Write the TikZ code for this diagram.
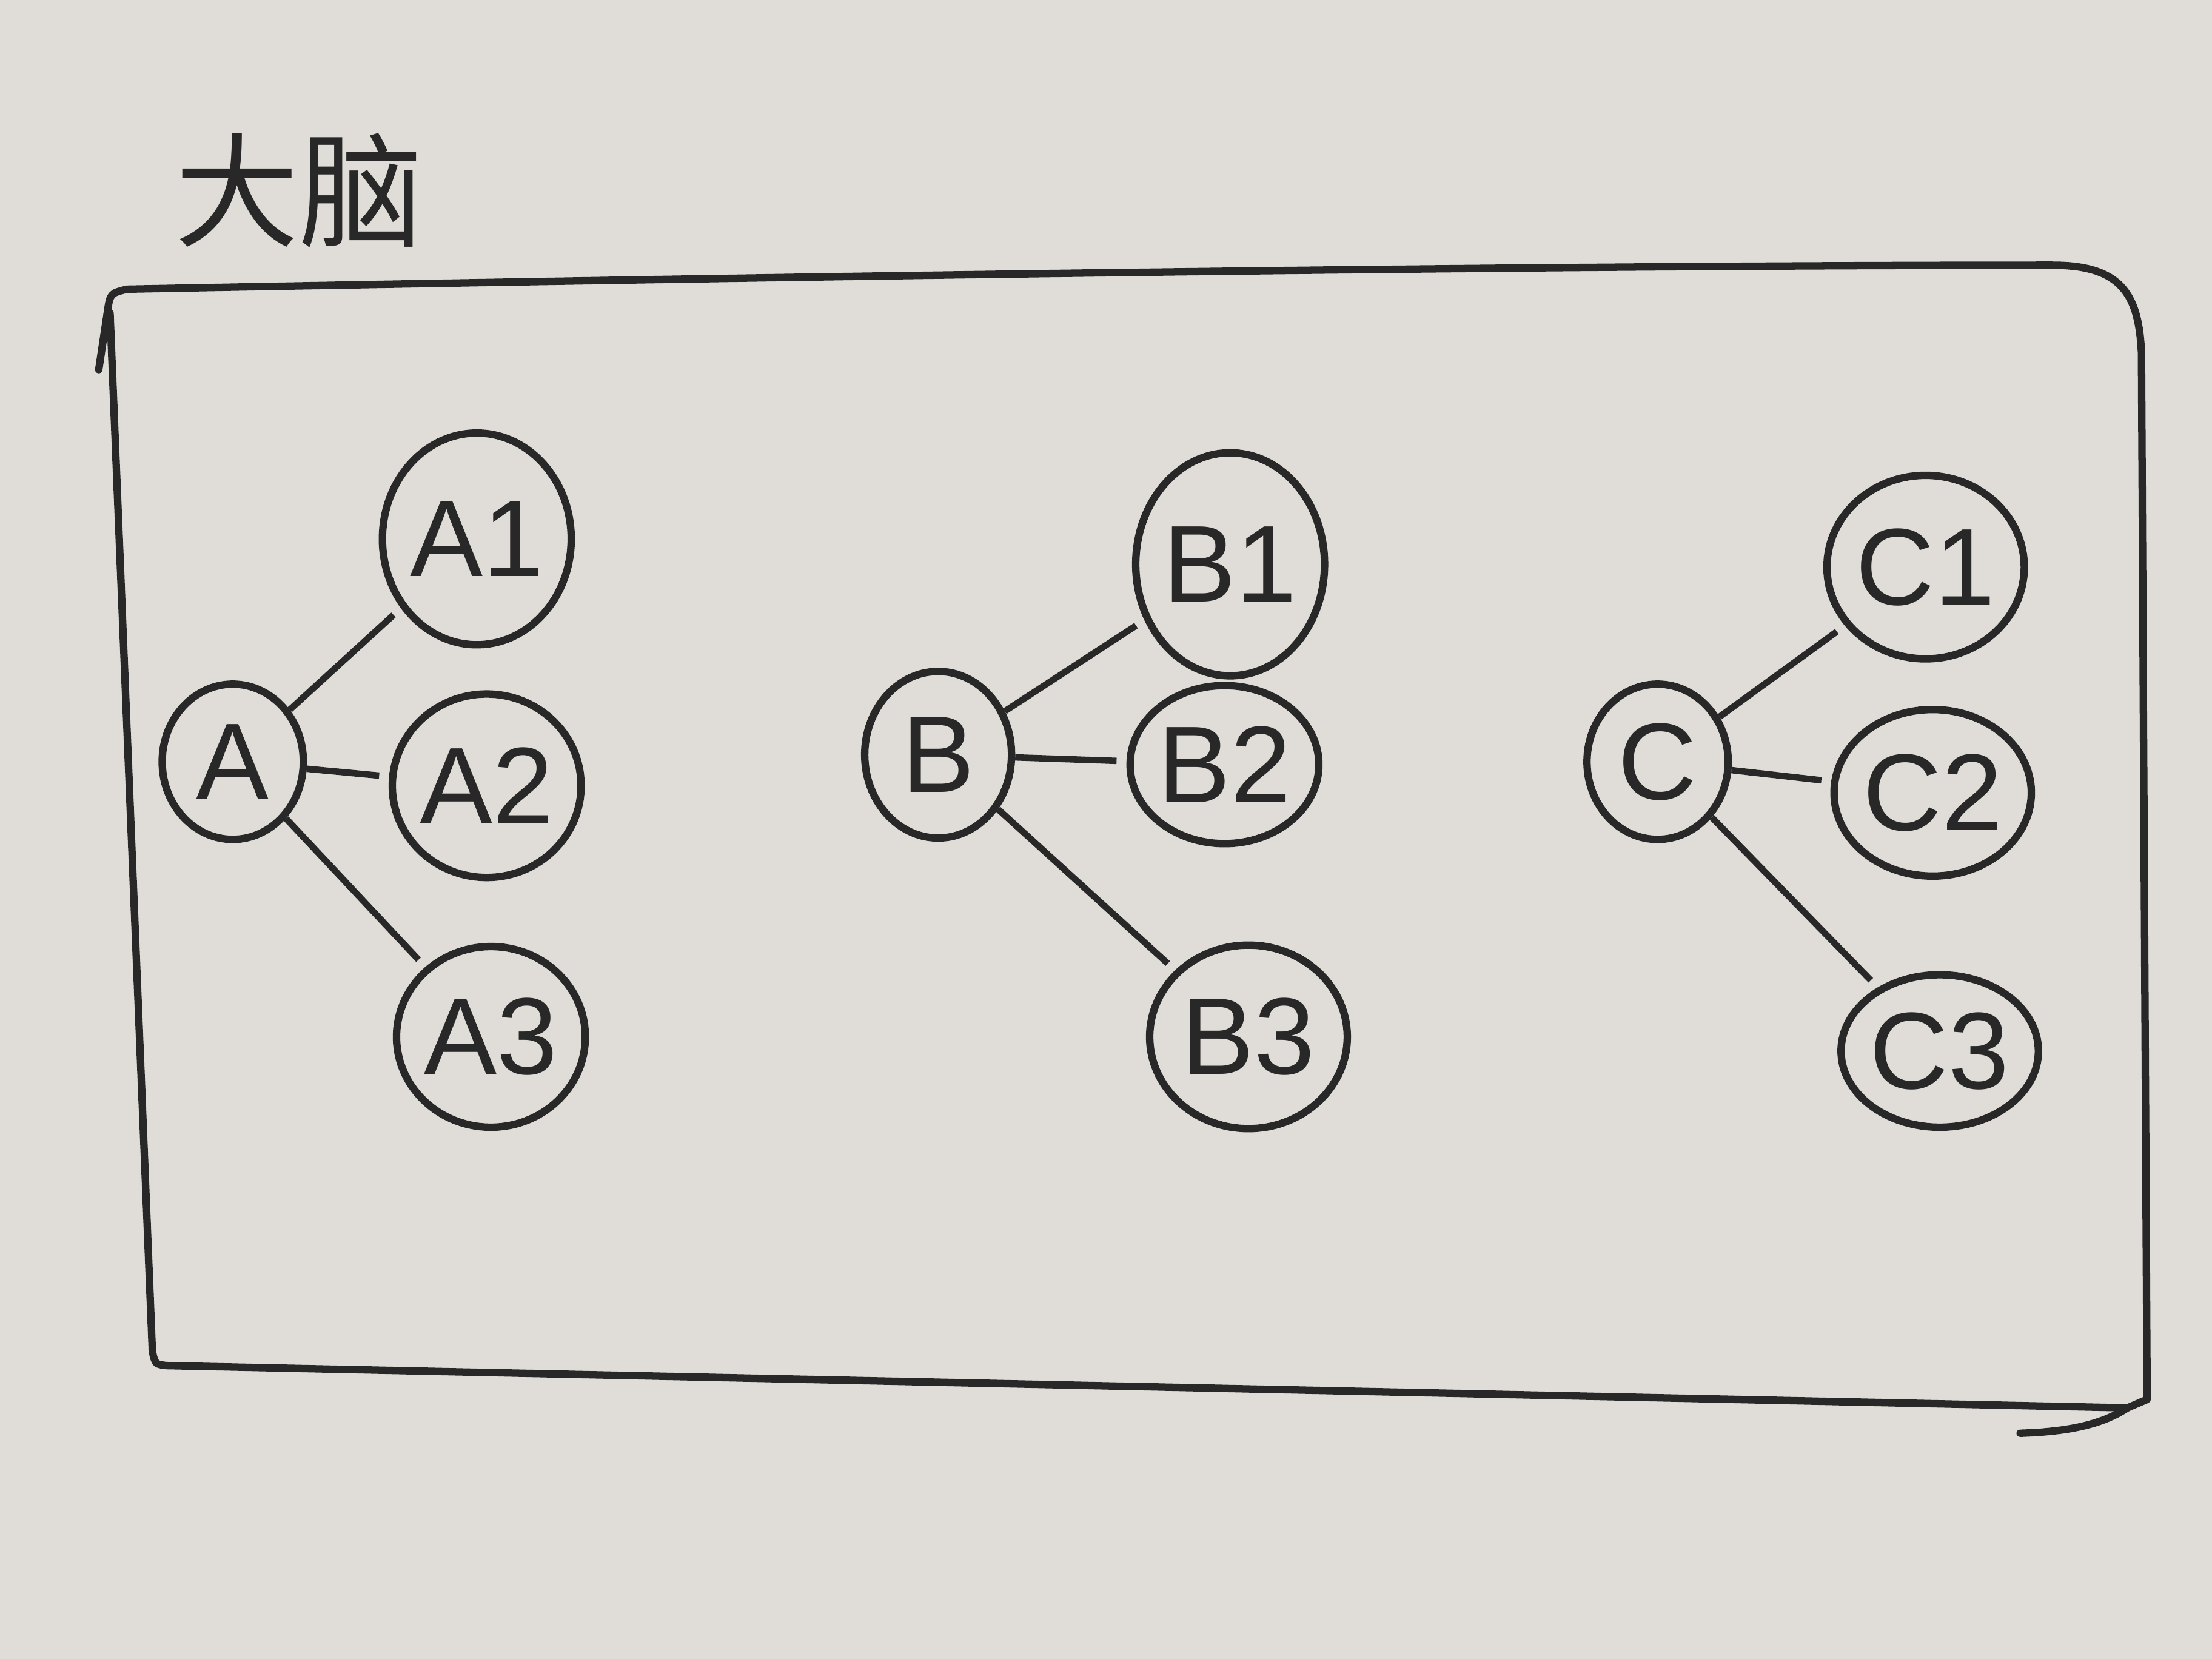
\documentclass[tikz,border=0pt]{standalone}
\usepackage{fontspec}
\setmainfont{Liberation Sans}
\newfontfamily\cjk{Noto Sans CJK SC}
\usetikzlibrary{shapes.geometric}
\definecolor{paper}{RGB}{224,221,216}
\definecolor{ink}{RGB}{40,40,40}
\tikzset{
  nd/.style={ellipse, draw=ink, line width=1.5pt, inner sep=0pt, text=ink,
    font=\fontsize{22}{24}\selectfont},
  edge/.style={draw=ink, line width=1.3pt, shorten >=2pt, shorten <=0pt},
  frame/.style={draw=ink, line width=1.5pt, line cap=round, line join=round},
}
\begin{document}
\begin{tikzpicture}[x=0.01cm, y=-0.01cm]
\fill[paper] (0,0) rectangle (1568,1176);
\useasboundingbox (0,0) rectangle (1568,1176);
% frame
\draw[frame]
  (70,262) -- (76,222) .. controls (78,208) .. (90,205)
  .. controls (600,195) and (1100,188) .. (1455,188)
  .. controls (1505,188) and (1516,210) .. (1518,250)
  -- (1522,992) -- (1508,998)
  -- (118,968) .. controls (110,967) .. (108,958)
  -- (78,222);
\draw[frame] (1508,998) .. controls (1490,1010) and (1465,1015) .. (1432,1016);
% title
\node[text=ink, font=\cjk\fontsize{25}{27}\selectfont] (title) at (212,135) {大脑};
% nodes
\node[nd, minimum width=1.00cm, minimum height=1.10cm] (A)  at (165,540) {A};
\node[nd, minimum width=1.22cm, minimum height=1.50cm] (A1) at (338,382) {A1};
\node[nd, minimum width=1.12cm, minimum height=1.30cm] (A2) at (345,557) {A2};
\node[nd, minimum width=1.16cm, minimum height=1.28cm] (A3) at (348,735) {A3};
\node[nd, minimum width=1.04cm, minimum height=1.18cm] (B)  at (665,535) {B};
\node[nd, minimum width=1.24cm, minimum height=1.58cm] (B1) at (872,400) {B1};
\node[nd, minimum width=1.12cm, minimum height=1.12cm] (B2) at (868,542) {B2};
\node[nd, minimum width=1.40cm, minimum height=1.30cm] (B3) at (885,735) {B3};
\node[nd, minimum width=1.00cm, minimum height=1.10cm] (C)  at (1175,540) {C};
\node[nd, minimum width=1.00cm, minimum height=1.30cm] (C1) at (1365,402) {C1};
\node[nd, minimum width=1.18cm, minimum height=1.18cm] (C2) at (1370,562) {C2};
\node[nd, minimum width=1.08cm, minimum height=1.08cm] (C3) at (1375,745) {C3};
% edges
\draw[edge] (A) -- (A1);
\draw[edge] (A) -- (A2);
\draw[edge] (A) -- (A3);
\draw[edge] (B) -- (B1);
\draw[edge] (B) -- (B2);
\draw[edge] (B) -- (B3);
\draw[edge] (C) -- (C1);
\draw[edge] (C) -- (C2);
\draw[edge] (C) -- (C3);
\end{tikzpicture}
\end{document}
